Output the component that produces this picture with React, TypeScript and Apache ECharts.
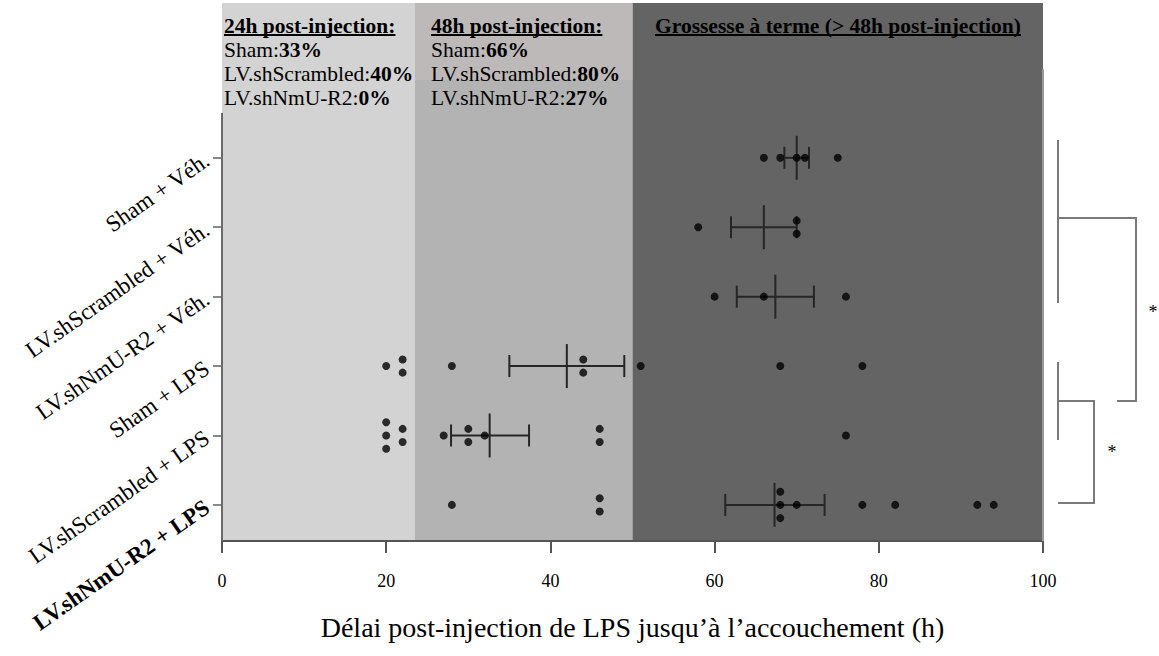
import { useEffect, useRef } from 'react';
import * as echarts from 'echarts';

const categories = [
  'Sham + Véh.',
  'LV.shScrambled + Véh.',
  'LV.shNmU-R2 + Véh.',
  'Sham + LPS',
  'LV.shScrambled + LPS',
  'LV.shNmU-R2 + LPS',
];

// delays (h) read per animal
const shamVeh = [66, 68, 70, 71, 75];
const scrVeh = [58, 70, 70];
const nmuVeh = [60, 66, 76];
const shamLps = [20, 22, 22, 28, 44, 44, 51, 68, 78];
const scrLps = [20, 20, 20, 22, 22, 27, 30, 30, 32, 46, 46, 76];
const nmuLps = [28, 46, 46, 68, 68, 68, 70, 78, 82, 92, 94];
const groupValues = [shamVeh, scrVeh, nmuVeh, shamLps, scrLps, nmuLps];

// mean and error bar ends
const means = [70, 66, 67.4, 42, 32.6, 67.3];
const errLow = [68.5, 62, 62.7, 35, 27.9, 61.3];
const errHigh = [71.5, 70, 72.1, 49, 37.4, 73.4];

const xTicks = [0, 20, 40, 60, 80, 100];

// background zones (h)
const zoneStart = [0, 23.5, 50];
const zoneEnd = [23.5, 50, 100];

// header texts
const headerGroups = ['Sham', 'LV.shScrambled', 'LV.shNmU-R2'];
const pct24h = [33, 40, 0];
const pct48h = [66, 80, 27];
const header24 = '24h post-injection:';
const header48 = '48h post-injection:';
const headerTerm = 'Grossesse à terme (> 48h post-injection)';

const FONT = '"Liberation Serif", "Times New Roman", Times, serif';
const Y_MIN = -1.23;
const Y_MAX = 6.52;
const GRID = { left: 222, right: 116, top: 3, bottom: 115 };

function measure(text: string, font: string) {
  const c = document.createElement('canvas').getContext('2d');
  if (!c) return text.length * 9;
  c.font = font;
  return c.measureText(text).width;
}

export default function App() {
  const ref = useRef<HTMLDivElement>(null);
  useEffect(() => {
    if (!ref.current) return;
    const chart = echarts.init(ref.current, undefined, { renderer: 'svg' });

    const zoneColors = ['#d3d3d3', '#b3b3b3', '#646464'];

    const points: number[][] = [];
    groupValues.forEach((vals, gi) => {
      const counts: Record<number, number> = {};
      vals.forEach((v) => (counts[v] = (counts[v] || 0) + 1));
      const seen: Record<number, number> = {};
      vals.forEach((v) => {
        const n = counts[v];
        const i = seen[v] || 0;
        seen[v] = i + 1;
        points.push([v, gi + 1 + (i - (n - 1) / 2) * 0.19]);
      });
    });

    const barData = means.map((m, i) => [m, errLow[i], errHigh[i], i + 1]);

    const HF = 21.5;
    const boldFont = `bold ${HF}px ${FONT}`;
    const hx1 = 224;
    const hx2 = 431;
    const hx3 = 655;
    const lineY = [26, 50, 74, 98];
    const rich = {
      r: { fontSize: HF, fontFamily: FONT, fill: '#000', color: '#000' },
      b: { fontSize: HF, fontFamily: FONT, fontWeight: 'bold', fill: '#000', color: '#000' },
    };
    const headerText = (x: number, y: number, t: string) => ({
      type: 'text',
      x,
      y,
      z: 50,
      style: { text: t, fill: '#000', font: boldFont, verticalAlign: 'middle' },
    });
    const underline = (x: number, t: string) => ({
      type: 'line',
      z: 50,
      shape: { x1: x, y1: 35, x2: x + measure(t, boldFont), y2: 35 },
      style: { stroke: '#000', lineWidth: 2 },
    });
    const richLine = (x: number, y: number, name: string, pct: number) => ({
      type: 'text',
      x,
      y,
      z: 50,
      style: {
        text: `{r|${name}:}{b|${pct}%}`,
        rich,
        verticalAlign: 'middle',
        fill: '#000',
      },
    });

    const bracketStyle = { stroke: '#7a7a7a', lineWidth: 2, fill: 'none' };

    const graphics: any[] = [
      headerText(hx1, lineY[0], header24),
      underline(hx1, header24),
      headerText(hx2, lineY[0], header48),
      underline(hx2, header48),
      headerText(hx3, lineY[0], headerTerm),
      underline(hx3, headerTerm),
      ...headerGroups.map((g, i) => richLine(hx1, lineY[i + 1], g, pct24h[i])),
      ...headerGroups.map((g, i) => richLine(hx2, lineY[i + 1], g, pct48h[i])),
      // y axis line and right frame
      { type: 'line', z: 40, shape: { x1: 222, y1: 113, x2: 222, y2: 541 }, style: { stroke: '#6a6a6a', lineWidth: 2 } },
      { type: 'line', z: 40, shape: { x1: 1043, y1: 69, x2: 1043, y2: 541 }, style: { stroke: '#9a9a9a', lineWidth: 2 } },
      // significance brackets
      { type: 'polyline', shape: { points: [[1058, 140], [1058, 303]] }, style: bracketStyle },
      { type: 'polyline', shape: { points: [[1058, 218], [1136, 218], [1136, 401], [1117, 401]] }, style: bracketStyle },
      { type: 'polyline', shape: { points: [[1058, 362], [1058, 440]] }, style: bracketStyle },
      { type: 'polyline', shape: { points: [[1058, 401], [1094, 401], [1094, 503], [1058, 503]] }, style: bracketStyle },
      { type: 'text', x: 1153, y: 312, style: { text: '*', font: `18px ${FONT}`, fill: '#000', align: 'center', verticalAlign: 'middle' } },
      { type: 'text', x: 1112, y: 452, style: { text: '*', font: `18px ${FONT}`, fill: '#000', align: 'center', verticalAlign: 'middle' } },
    ];

    chart.setOption({
      animation: false,
      backgroundColor: '#ffffff',
      grid: { ...GRID, containLabel: false },
      xAxis: {
        type: 'value',
        min: xTicks[0],
        max: xTicks[xTicks.length - 1],
        interval: 20,
        z: 10,
        axisLine: { show: true, onZero: false, lineStyle: { color: '#555', width: 2 } },
        axisTick: { show: true, length: 12, lineStyle: { color: '#555', width: 2 } },
        axisLabel: { fontSize: 18, fontFamily: FONT, color: '#000', margin: 31 },
        splitLine: { show: false },
        name: 'Délai post-injection de LPS jusqu’à l’accouchement (h)',
        nameLocation: 'middle',
        nameGap: 72,
        nameTextStyle: { fontSize: 28, fontFamily: FONT, color: '#000' },
      },
      yAxis: {
        type: 'value',
        inverse: true,
        min: Y_MIN,
        max: Y_MAX,
        z: 10,
        axisLine: { show: false, onZero: false },
        splitLine: { show: false },
        axisTick: {
          show: true,
          customValues: [1, 2, 3, 4, 5, 6],
          length: 9,
          lineStyle: { color: '#888', width: 2 },
        },
        axisLabel: {
          customValues: [1, 2, 3, 4, 5, 6],
          rotate: 35,
          margin: 15,
          formatter: (v: number) => {
            const i = Math.round(v) - 1;
            const t = categories[i] ?? '';
            return i === categories.length - 1 ? `{b|${t}}` : `{n|${t}}`;
          },
          rich: {
            n: { fontSize: 23, fontFamily: FONT, color: '#000' },
            b: { fontSize: 23, fontFamily: FONT, color: '#000', fontWeight: 'bold' },
          },
        },
      },
      series: [
        {
          type: 'scatter',
          z: 1,
          data: [],
          silent: true,
          markArea: {
            silent: true,
            data: [
              ...zoneStart.map((s, i) => [
                { xAxis: s, yAxis: Y_MIN, itemStyle: { color: zoneColors[i] } },
                { xAxis: zoneEnd[i], yAxis: Y_MAX },
              ]),
              [
                { xAxis: zoneStart[1], yAxis: Y_MIN, itemStyle: { color: '#bdb9b9' } },
                { xAxis: zoneEnd[1], yAxis: -0.12 },
              ],
            ],
          },
        },
        {
          type: 'custom',
          z: 3,
          silent: true,
          data: barData,
          encode: { x: [0, 1, 2], y: 3 },
          renderItem: (_p: any, api: any) => {
            const row = api.value(3);
            const m = api.coord([api.value(0), row]);
            const lo = api.coord([api.value(1), row]);
            const hi = api.coord([api.value(2), row]);
            const style = { stroke: '#262626', lineWidth: 2 };
            return {
              type: 'group',
              children: [
                { type: 'line', shape: { x1: lo[0], y1: lo[1], x2: hi[0], y2: hi[1] }, style },
                { type: 'line', shape: { x1: lo[0], y1: lo[1] - 11, x2: lo[0], y2: lo[1] + 11 }, style },
                { type: 'line', shape: { x1: hi[0], y1: hi[1] - 11, x2: hi[0], y2: hi[1] + 11 }, style },
                { type: 'line', shape: { x1: m[0], y1: m[1] - 22, x2: m[0], y2: m[1] + 22 }, style },
              ],
            };
          },
        },
        {
          type: 'scatter',
          z: 4,
          symbolSize: 8,
          itemStyle: { color: '#000' },
          data: points,
        },
      ],
      graphic: graphics,
    });

    return () => chart.dispose();
  }, []);

  return (
    <div
      ref={ref}
      style={{ position: 'absolute', left: 0, top: 0, width: 1159, height: 656 }}
    />
  );
}
